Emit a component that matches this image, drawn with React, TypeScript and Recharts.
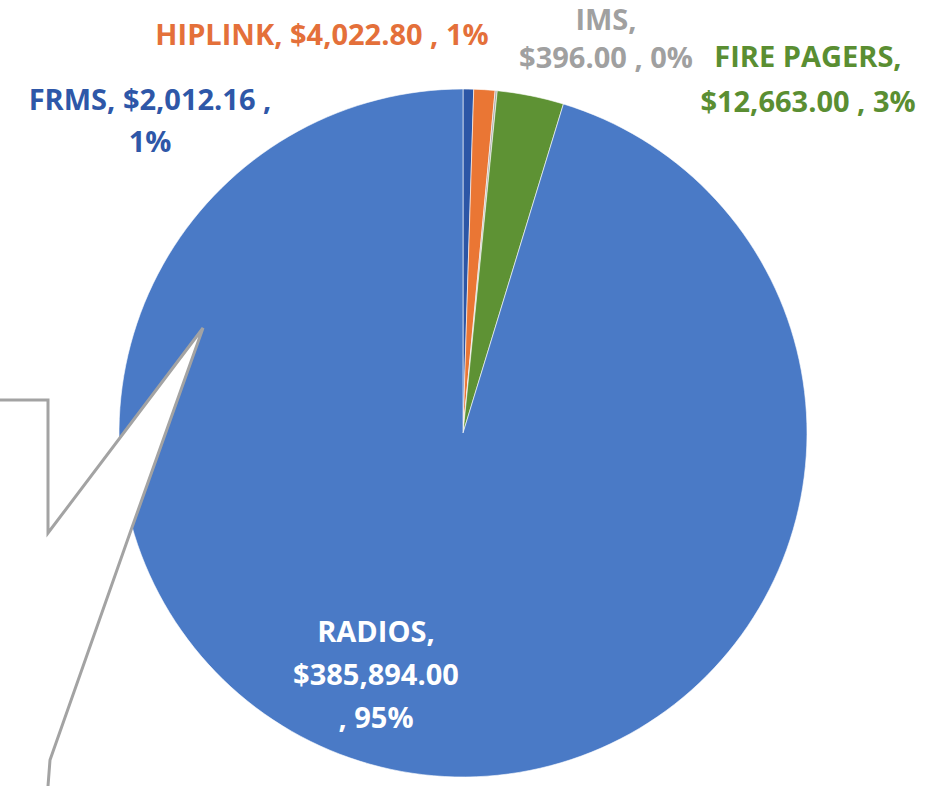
import React from "react";
import { PieChart, Pie, Cell } from "recharts";

const categories = ["FRMS", "HIPLINK", "IMS", "FIRE PAGERS", "RADIOS"];
const amounts = [2012.16, 4022.8, 396.0, 12663.0, 385894.0];
const amountLabels = ["$2,012.16", "$4,022.80", "$396.00", "$12,663.00", "$385,894.00"];
const percentLabels = ["1%", "1%", "0%", "3%", "95%"];

const sliceColors = ["#2C56A6", "#EA7634", "#A8A8A8", "#5E9234", "#4A7AC6"];
const textColors = ["#2E57A8", "#E4703A", "#A0A0A0", "#5A8E32", "#FFFFFF"];

// label line layouts: text lines per category, and placement offsets from the pie centre
const labelLines: string[][] = [
  [`${categories[0]}, ${amountLabels[0]} ,`, percentLabels[0]],
  [`${categories[1]}, ${amountLabels[1]} , ${percentLabels[1]}`],
  [`${categories[2]},`, `${amountLabels[2]} , ${percentLabels[2]}`],
  [`${categories[3]},`, `${amountLabels[3]} , ${percentLabels[3]}`],
  [`${categories[4]},`, amountLabels[4], `, ${percentLabels[4]}`],
];
const labelOffsets = [
  { dx: -313, dy: -323, gap: 42 },
  { dx: -141, dy: -388, gap: 42 },
  { dx: 143, dy: -403, gap: 38 },
  { dx: 345, dy: -366, gap: 45 },
  { dx: -87, dy: 209, gap: 43 },
];

const data = categories.map((name, i) => ({ name, value: amounts[i] }));

const FONT = "'Open Sans', 'Noto Sans', sans-serif";

const renderLabel = (props: any) => {
  const { cx, cy, index } = props;
  const off = labelOffsets[index];
  const x = cx + off.dx;
  const y = cy + off.dy;
  return (
    <text
      key={`lbl-${index}`}
      x={x}
      y={y}
      textAnchor="middle"
      fill={textColors[index]}
      fontFamily={FONT}
      fontWeight={700}
      fontSize={29}
    >
      {labelLines[index].map((line, li) => (
        <tspan key={li} x={x} y={y + li * off.gap}>
          {line}
        </tspan>
      ))}
    </text>
  );
};

export default function App() {
  return (
    <div
      style={{
        position: "absolute",
        left: 0,
        top: 0,
        width: 932,
        height: 786,
        background: "#FFFFFF",
        overflow: "hidden",
      }}
    >
      <PieChart width={932} height={786} margin={{ top: 0, right: 0, bottom: 0, left: 0 }}>
        <Pie
          data={data}
          dataKey="value"
          nameKey="name"
          cx={463}
          cy={433}
          outerRadius={344}
          startAngle={90}
          endAngle={-270}
          stroke="#FFFFFF"
          strokeWidth={0.6}
          isAnimationActive={false}
          label={renderLabel}
          labelLine={false}
        >
          {data.map((d, i) => (
            <Cell key={d.name} fill={sliceColors[i]} />
          ))}
        </Pie>
      </PieChart>
      <svg
        width={932}
        height={786}
        style={{ position: "absolute", left: 0, top: 0, pointerEvents: "none" }}
      >
        <polygon
          points="0,400 48,400 48,533 203,328 130,533 50,760 48,786 0,786"
          fill="#FFFFFF"
          stroke="none"
        />
        <polyline
          points="0,400 48,400 48,533 203,328 130,533 50,760 48,786"
          fill="none"
          stroke="#A3A3A3"
          strokeWidth={3}
          strokeLinejoin="miter"
        />
      </svg>
    </div>
  );
}
